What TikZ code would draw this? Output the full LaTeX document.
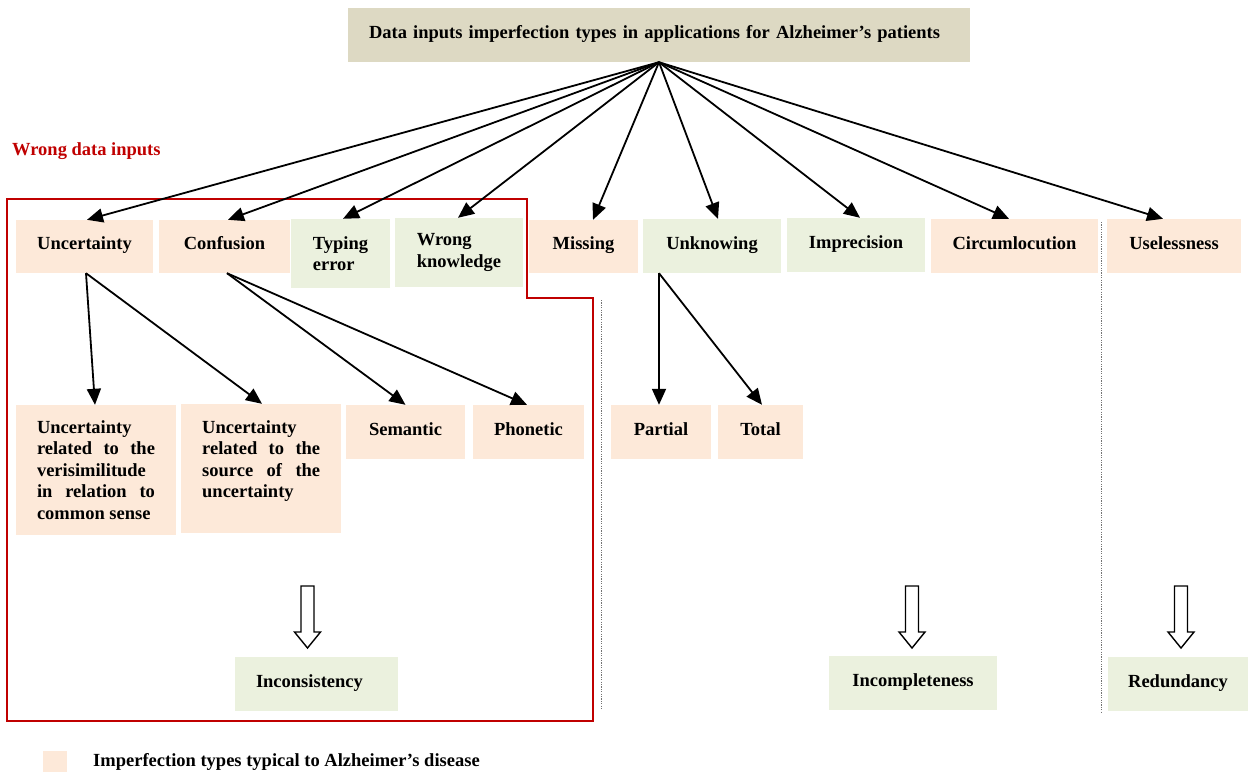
\documentclass[tikz,border=0pt]{standalone}
\usepackage{fontspec}
\setmainfont{Liberation Serif}
\usetikzlibrary{arrows.meta}
\definecolor{peach}{HTML}{FDE9D9}
\definecolor{sage}{HTML}{EBF1DE}
\definecolor{tanbox}{HTML}{DDD9C3}
\definecolor{redline}{HTML}{C00000}
\begin{document}
\begin{tikzpicture}[x=1pt,y=-1pt,
  base/.style={inner sep=0pt, font=\bfseries\fontsize{18.5}{21.5}\selectfont},
  one/.style={base, text height=12pt, text depth=6pt},
  pbox/.style={fill=peach},
  gbox/.style={fill=sage},
  conn/.style={line width=1.8pt, -{Triangle[length=16pt,width=14pt]}},
  hollow/.style={line width=1.4pt, draw=black, fill=white, line join=miter},
  sepline/.style={gray!90!black, line width=0.8pt, dash pattern=on 1.2pt off 1.2pt},
]
\useasboundingbox (0,0) rectangle (1249,771);

% title
\node[one, fill=tanbox, minimum width=622pt, minimum height=54pt, text width=580pt, align=left] (title) at (659,35) {Data inputs imperfection types in applications for Alzheimer’s patients};

\node[base, text=redline, anchor=west] (wdi) at (12,151) {Wrong data inputs};

% first row
\node[one,pbox,minimum width=137pt,minimum height=53pt] (unc) at (84.5,246.5) {Uncertainty};
\node[one,pbox,minimum width=131pt,minimum height=53pt] (conf) at (224.5,246.5) {Confusion};
\node[base,gbox,minimum width=99pt,minimum height=69pt,align=left] (typ) at (340.5,253.5) {Typing\\error};
\node[base,gbox,minimum width=128pt,minimum height=69pt,align=left] (wk) at (459,252.5) {Wrong\\knowledge};
\node[one,pbox,minimum width=109pt,minimum height=53pt] (miss) at (583.5,246.5) {Missing};
\node[one,gbox,minimum width=138pt,minimum height=54pt] (unk) at (712,246) {Unknowing};
\node[one,gbox,minimum width=138pt,minimum height=54pt] (imp) at (856,245) {Imprecision};
\node[one,pbox,minimum width=167pt,minimum height=54pt] (circ) at (1014.5,246) {Circumlocution};
\node[one,pbox,minimum width=134pt,minimum height=54pt] (use) at (1174,246) {Uselessness};

% second row
\node[base,pbox,minimum width=160pt,minimum height=130pt,align=left] (u1) at (96,470)
  {Uncertainty\\\makebox[118pt][s]{related to the}\\verisimilitude\\\makebox[118pt][s]{in relation to}\\common sense};
\node[pbox,minimum width=160pt,minimum height=129pt] (u2) at (261,468.5) {};
\node[base,align=left,anchor=north west] (u2t) at (202,420)
  {Uncertainty\\\makebox[118pt][s]{related to the}\\\makebox[118pt][s]{source of the}\\uncertainty};
\node[one,pbox,minimum width=119pt,minimum height=54pt] (sem) at (405.5,432) {Semantic};
\node[one,pbox,minimum width=111pt,minimum height=54pt] (pho) at (528.5,432) {Phonetic};
\node[one,pbox,minimum width=100pt,minimum height=54pt] (par) at (661,432) {Partial};
\node[one,pbox,minimum width=85pt,minimum height=54pt] (tot) at (760.5,432) {Total};

% result row
\node[one,gbox,minimum width=163pt,minimum height=54pt,text width=121pt,align=left] (inc) at (316.5,684) {Inconsistency};
\node[one,gbox,minimum width=168pt,minimum height=54pt] (incp) at (913,683) {Incompleteness};
\node[one,gbox,minimum width=140pt,minimum height=54pt] (red) at (1178,684) {Redundancy};

% legend
\node[pbox, minimum width=24pt, minimum height=21pt, inner sep=0pt] (leg) at (55,761.5) {};
\node[base, anchor=west] (legt) at (93,762) {Imperfection types typical to Alzheimer’s disease};

% red frame
\draw[redline, line width=2.2pt] (7,199) -- (527,199) -- (527,298) -- (593,298) -- (593,721) -- (7,721) -- cycle;

% separators
\draw[sepline] (601,300) -- (601,710);
\draw[sepline] (1101,222) -- (1101,713);

% connectors
\draw[conn] (title.south) -- ([xshift=2.5pt]unc.north);
\draw[conn] (title.south) -- ([xshift=3.5pt]conf.north);
\draw[conn] (title.south) -- ([xshift=2.5pt]typ.north);
\draw[conn] (title.south) -- ([xshift=-1pt]wk.north);
\draw[conn] (title.south) -- ([xshift=9.5pt]miss.north);
\draw[conn] (title.south) -- ([xshift=6pt]unk.north);
\draw[conn] (title.south) -- ([xshift=4pt]imp.north);
\draw[conn] (title.south) -- ([xshift=-5.5pt]circ.north);
\draw[conn] (title.south) -- ([xshift=-11pt]use.north);

\draw[conn] ([xshift=1.5pt]unc.south) -- ([xshift=-1pt]u1.north);
\draw[conn] ([xshift=1.5pt]unc.south) -- ([xshift=1pt]u2.north);
\draw[conn] ([xshift=2.5pt]conf.south) -- (sem.north);
\draw[conn] ([xshift=2.5pt]conf.south) -- ([xshift=-1.5pt]pho.north);
\draw[conn] ([xshift=-53pt]unk.south) -- ([xshift=-2pt]par.north);
\draw[conn] ([xshift=-53pt]unk.south) -- ([xshift=1.5pt]tot.north);

% hollow arrows
\foreach \cx in {307.5,912,1181}
  \draw[hollow] ({\cx-6.5},586) -- ({\cx+6.5},586) -- ({\cx+6.5},632) -- ({\cx+13},632)
     -- (\cx,648) -- ({\cx-13},632) -- ({\cx-6.5},632) -- cycle;
\end{tikzpicture}
\end{document}
